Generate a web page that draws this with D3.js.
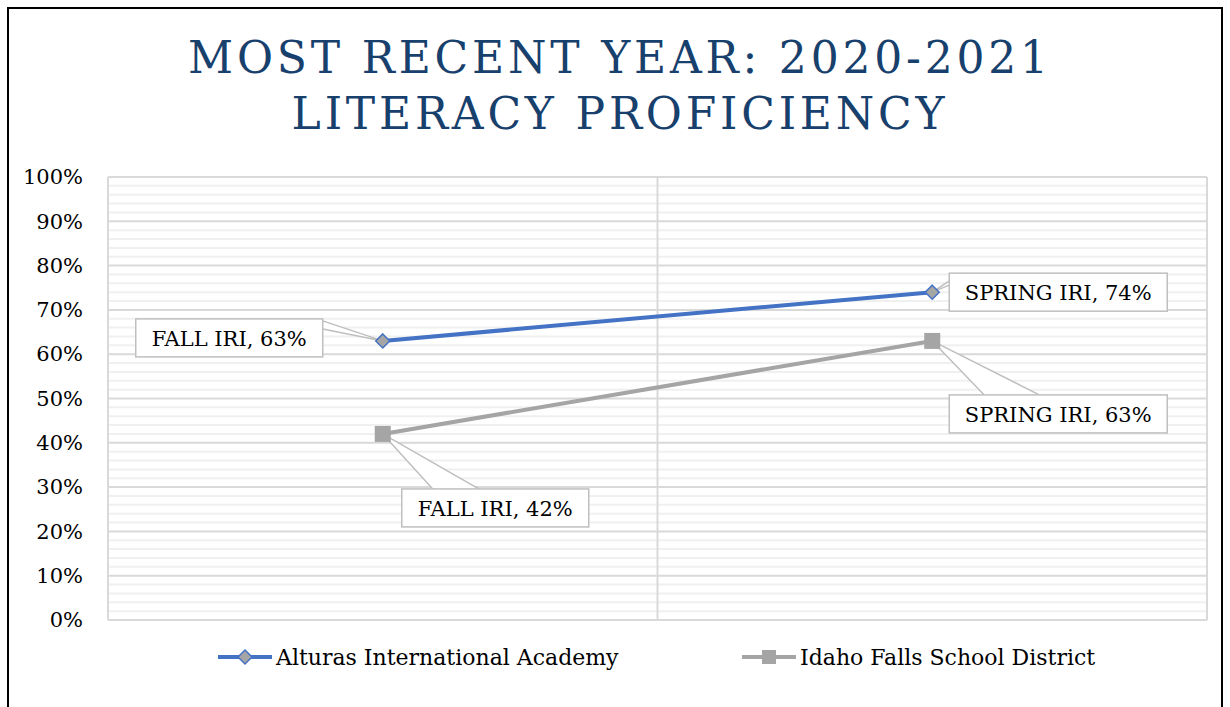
<!DOCTYPE html>
<html>
<head>
<meta charset="utf-8">
<script src="https://cdn.jsdelivr.net/npm/d3@7"></script>
<style>
  body { margin: 0; background: #fff; }
  text { font-family: "DejaVu Serif", serif; }
</style>
</head>
<body>
<div id="chart-area"></div>
<script>
// data
var categories = ["FALL IRI", "SPRING IRI"];
var seriesNames = ["Alturas International Academy", "Idaho Falls School District"];
var alturas = [63, 74];
var idahoFalls = [42, 63];
var yTicks = [0, 10, 20, 30, 40, 50, 60, 70, 80, 90, 100];
var titleLines = ["MOST RECENT YEAR: 2020-2021", "LITERACY PROFICIENCY"];

var W = 1230, H = 707;
var margin = { top: 177, right: 23, bottom: 87, left: 108 },
  width = W - margin.left - margin.right,
  height = H - margin.top - margin.bottom;

var root = d3.select("#chart-area")
  .append("svg")
  .attr("width", W)
  .attr("height", H);

// outer frame
root.append("rect")
  .attr("x", 8).attr("y", 8)
  .attr("width", 1214).attr("height", 720)
  .attr("fill", "none")
  .attr("stroke", "#000")
  .attr("stroke-width", 2);

// title
root.append("g").selectAll("text")
  .data(titleLines)
  .enter()
  .append("text")
  .attr("x", 620)
  .attr("y", function(d, i) { return 73 + i * 56; })
  .attr("text-anchor", "middle")
  .attr("font-size", "44px")
  .attr("letter-spacing", "3.8px")
  .attr("fill", "#17406d")
  .text(function(d) { return d; });

var svg = root.append("g")
  .attr("transform", "translate(" + margin.left + "," + margin.top + ")");

var x = d3.scaleBand()
  .domain(categories)
  .range([0, width]);

var y = d3.scaleLinear()
  .domain([0, 100])
  .range([height, 0]);

// minor gridlines every 2%
svg.append("g").selectAll("line")
  .data(d3.range(0, 101, 2).filter(function(v) { return v % 10 !== 0; }))
  .enter()
  .append("line")
  .attr("x1", 0).attr("x2", width)
  .attr("y1", function(d) { return y(d); })
  .attr("y2", function(d) { return y(d); })
  .attr("stroke", "#f0f0f0")
  .attr("stroke-width", 2);

// major gridlines
svg.append("g").selectAll("line")
  .data(yTicks)
  .enter()
  .append("line")
  .attr("x1", 0).attr("x2", width)
  .attr("y1", function(d) { return y(d); })
  .attr("y2", function(d) { return y(d); })
  .attr("stroke", "#d9d9d9")
  .attr("stroke-width", 2);

// vertical category gridlines
svg.append("g").selectAll("line")
  .data([0, width / 2, width])
  .enter()
  .append("line")
  .attr("x1", function(d) { return d; })
  .attr("x2", function(d) { return d; })
  .attr("y1", 0).attr("y2", height)
  .attr("stroke", "#d9d9d9")
  .attr("stroke-width", 2);

// y axis labels
var yAxis = svg.append("g")
  .call(d3.axisLeft(y).tickValues(yTicks).tickSize(0).tickPadding(25)
    .tickFormat(function(d) { return d + "%"; }));
yAxis.select(".domain").remove();
yAxis.selectAll("text")
  .attr("font-family", "DejaVu Serif, serif")
  .attr("font-size", "21px")
  .attr("fill", "#000");

var cx = function(i) { return x(categories[i]) + x.bandwidth() / 2; };

var line = d3.line()
  .x(function(d, i) { return cx(i); })
  .y(function(d) { return y(d); });

// Idaho Falls line (grey, squares)
svg.append("path")
  .datum(idahoFalls)
  .attr("d", line)
  .attr("fill", "none")
  .attr("stroke", "#a5a5a5")
  .attr("stroke-width", 4);

// Alturas line (blue, diamonds)
svg.append("path")
  .datum(alturas)
  .attr("d", line)
  .attr("fill", "none")
  .attr("stroke", "#4472c4")
  .attr("stroke-width", 4);

function diamond(g, px, py, r) {
  g.append("path")
    .attr("d", "M" + px + "," + (py - r) + "L" + (px + r) + "," + py +
      "L" + px + "," + (py + r) + "L" + (px - r) + "," + py + "Z")
    .attr("fill", "#a5a5a5")
    .attr("stroke", "#4472c4")
    .attr("stroke-width", 1.5);
}
function square(g, px, py, r) {
  g.append("rect")
    .attr("x", px - r).attr("y", py - r)
    .attr("width", r * 2).attr("height", r * 2)
    .attr("fill", "#a5a5a5");
}

// callout labels: box offset from point, wedge anchor points relative to box
var callouts = [
  { v: alturas[0], i: 0, bx: -247, by: -22, w: 187, wedge: [[187, 2], [187, 10]] },
  { v: alturas[1], i: 1, bx: 17, by: -19, w: 218, wedge: [[0, 12], [12, 0]] },
  { v: idahoFalls[0], i: 0, bx: 19, by: 55, w: 187, wedge: [[31, 0], [77, 0]] },
  { v: idahoFalls[1], i: 1, bx: 17, by: 54, w: 218, wedge: [[35, 0], [90, 0]] }
];

var labels = svg.append("g");
callouts.forEach(function(c) {
  var px = cx(c.i), py = y(c.v);
  var bx = px + c.bx, by = py + c.by;
  labels.append("path")
    .attr("d", "M" + (bx + c.wedge[0][0]) + "," + (by + c.wedge[0][1]) +
      "L" + px + "," + py + "L" + (bx + c.wedge[1][0]) + "," + (by + c.wedge[1][1]))
    .attr("fill", "#fff")
    .attr("stroke", "#bfbfbf")
    .attr("stroke-width", 1.5);
  labels.append("rect")
    .attr("x", bx).attr("y", by)
    .attr("width", c.w).attr("height", 38)
    .attr("fill", "#fff")
    .attr("stroke", "#bfbfbf")
    .attr("stroke-width", 1.5);
  labels.append("text")
    .attr("x", bx + c.w / 2)
    .attr("y", by + 27)
    .attr("text-anchor", "middle")
    .attr("font-size", "21px")
    .text(categories[c.i] + ", " + c.v + "%");
});

// markers on top
var marks = svg.append("g");
idahoFalls.forEach(function(v, i) { square(marks, cx(i), y(v), 8); });
alturas.forEach(function(v, i) { diamond(marks, cx(i), y(v), 7); });

// legend
var legend = root.append("g");
var legendItems = [
  { name: seriesNames[0], x: 218, color: "#4472c4", kind: "diamond" },
  { name: seriesNames[1], x: 742, color: "#a5a5a5", kind: "square" }
];
legendItems.forEach(function(d) {
  var ly = 657;
  legend.append("line")
    .attr("x1", d.x).attr("x2", d.x + 54)
    .attr("y1", ly).attr("y2", ly)
    .attr("stroke", d.color)
    .attr("stroke-width", 4);
  if (d.kind === "diamond") diamond(legend, d.x + 27, ly, 7);
  else square(legend, d.x + 27, ly, 7);
  legend.append("text")
    .attr("x", d.x + 58)
    .attr("y", ly + 8)
    .attr("font-size", "22px")
    .text(d.name);
});
</script>
</body>
</html>
